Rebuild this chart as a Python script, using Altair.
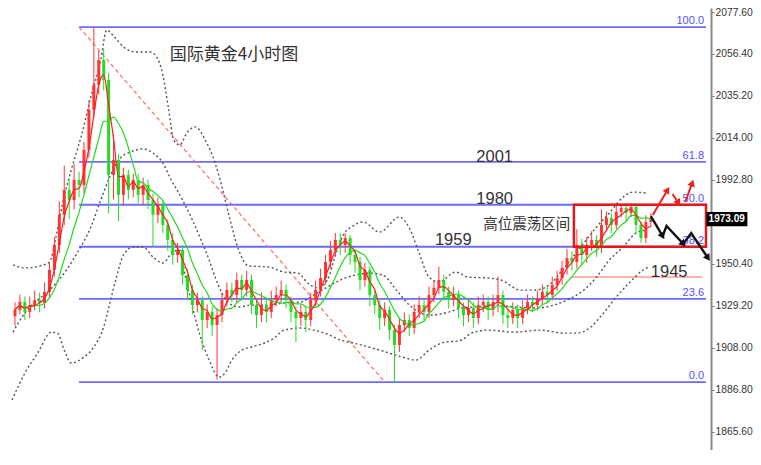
import altair as alt
import pandas as pd

# ---------------- data ----------------
BAR_IDX = list(range(130))
OPEN = [1924.0,1927.2,1931.3,1926.2,1929.7,1932.2,1930.7,1936.3,1947.4,1960.0,
        1975.2,1987.8,1982.7,1992.8,1990.3,2008.0,2028.2,2040.8,2053.4,2043.3,
        1995.4,2002.9,1985.3,1995.4,1987.8,1992.8,1985.3,1990.3,1982.7,1975.2,
        1980.2,1970.1,1962.5,1954.9,1957.5,1944.8,1937.3,1929.7,1932.2,1922.1,
        1926.2,1919.6,1924.6,1932.2,1937.3,1934.7,1942.3,1937.3,1942.3,1929.7,
        1924.6,1929.7,1926.2,1932.2,1934.7,1937.3,1932.2,1926.2,1923.1,1926.2,
        1922.1,1932.2,1937.3,1943.3,1951.4,1957.5,1962.5,1960.0,1963.5,1954.9,
        1951.4,1942.3,1947.4,1934.7,1929.7,1923.1,1927.2,1917.1,1909.5,1919.6,
        1922.1,1918.1,1926.2,1929.7,1926.2,1934.7,1938.3,1942.3,1936.3,1932.2,
        1934.7,1928.2,1924.6,1928.2,1923.1,1929.7,1931.2,1927.2,1931.2,1934.7,
        1924.6,1923.1,1927.2,1923.1,1928.2,1931.2,1929.7,1933.2,1936.3,1934.7,
        1939.8,1943.3,1948.4,1953.4,1951.4,1960.0,1954.9,1960.0,1962.5,1958.5,
        1970.1,1973.6,1970.1,1976.7,1978.7,1976.2,1979.2,1970.1,1963.5,1971.6]
CLOSE = [1927.2,1931.3,1926.2,1929.7,1932.2,1930.7,1936.3,1947.4,1960.0,1975.2,
         1987.8,1982.7,1992.8,1990.3,2008.0,2028.2,2040.8,2053.4,2043.3,1995.4,
         2002.9,1985.3,1995.4,1987.8,1992.8,1985.3,1990.3,1982.7,1975.2,1980.2,
         1970.1,1962.5,1954.9,1957.5,1944.8,1937.3,1929.7,1932.2,1922.1,1926.2,
         1919.6,1924.6,1932.2,1937.3,1934.7,1942.3,1937.3,1942.3,1929.7,1924.6,
         1929.7,1926.2,1932.2,1934.7,1937.3,1932.2,1926.2,1923.1,1926.2,1922.1,
         1932.2,1937.3,1943.3,1951.4,1957.5,1962.5,1960.0,1963.5,1954.9,1951.4,
         1942.3,1947.4,1934.7,1929.7,1923.1,1927.2,1917.1,1909.5,1919.6,1922.1,
         1918.1,1926.2,1929.7,1926.2,1934.7,1938.3,1942.3,1936.3,1932.2,1934.7,
         1928.2,1924.6,1928.2,1923.1,1929.7,1931.2,1927.2,1931.2,1934.7,1924.6,
         1923.1,1927.2,1923.1,1928.2,1931.2,1929.7,1933.2,1936.3,1934.7,1939.8,
         1943.3,1948.4,1953.4,1951.4,1960.0,1954.9,1960.0,1962.5,1958.5,1970.1,
         1973.6,1970.1,1976.7,1978.7,1976.2,1979.2,1970.1,1963.5,1971.6,1973.09]
HIGH = [1931,1935,1934,1934,1937,1936,1941,1951,1964,1982,
        2000,1993,2001,1997,2012,2033,2070,2058,2059,2047,
        2016,2006,1999,1998,1996,1996,1994,1993,1986,1984,
        1982,1973,1966,1961,1960,1948,1940,1936,1934,1930,
        1929,1928,1936,1941,1941,1946,1945,1947,1945,1932,
        1936,1933,1937,1939,1942,1940,1934,1929,1930,1929,
        1936,1942,1948,1955,1962,1966,1966,1966,1965,1958,
        1954,1951,1949,1938,1932,1931,1929,1920,1923,1926,
        1925,1930,1934,1933,1939,1942,1949,1945,1939,1939,
        1937,1931,1933,1931,1934,1935,1934,1935,1944,1937,
        1928,1931,1930,1932,1935,1934,1937,1940,1939,1944,
        1947,1952,1958,1957,1968,1963,1964,1967,1965,1978,
        1977,1976,1981,1981,1981,1981,1981,1972,1975,1976]
LOW = [1919,1925,1922,1923,1927,1926,1928,1933,1944,1956,
       1970,1973,1978,1984,1986,2004,2024,2036,2038,1976,
       1983,1972,1980,1983,1984,1981,1980,1978,1959,1971,
       1966,1957,1950,1951,1940,1932,1925,1926,1907,1918,
       1914,1892,1921,1929,1931,1931,1933,1934,1925,1918,
       1921,1921,1923,1929,1931,1928,1921,1911,1919,1916,
       1919,1929,1934,1940,1948,1954,1955,1956,1950,1946,
       1937,1939,1929,1925,1917,1919,1912,1890.3,1906,1916,
       1914,1915,1923,1922,1923,1931,1935,1932,1928,1929,
       1923,1919,1921,1918,1920,1926,1922,1924,1926,1920,
       1918,1920,1918,1920,1925,1926,1927,1930,1931,1932,
       1937,1940,1945,1947,1948,1950,1951,1957,1954,1956,
       1967,1966,1968,1974,1972,1974,1966,1961,1961,1969]

# Bollinger bands (bar index, price)
UPPER_IDX = [-0.4,2,5,7,8.4,9.6,11.4,13.4,15.4,17.4,18.6,20,22,24.6,27.4,28.6,30,31.2,32.2,33.4,
             35,36.6,38.6,40.6,42,43.4,45.4,47.4,51.4,54.6,57.4,59.4,61.4,63.4,65,66.6,68.6,70.6,
             74,78,80,82,84,86,89.4,92,96,98.6,102.6,105.4,108.6,111.4,115.4,118,120.6,123.4,125.4,128]
UPPER_VAL = [1949.9,1948.4,1949.4,1951.4,1965.0,1980.2,1997.8,2014.5,2034.7,2053.4,2068.5,2065.5,2060.0,
             2057.4,2057.4,2055.4,2045.8,2028.1,2013.0,2010.5,2017.0,2019.6,2013.0,2001.4,1989.3,1975.1,
             1957.4,1949.4,1948.9,1946.3,1945.8,1940.8,1938.3,1942.3,1954.9,1965.0,1969.6,1971.6,1966.5,
             1974.1,1968.6,1955.9,1943.8,1941.3,1946.3,1943.8,1943.3,1942.3,1937.2,1937.2,1940.3,1948.4,
             1961.0,1969.1,1976.1,1984.2,1986.7,1986.2]
MID_IDX = [-0.4,2,4.6,6.6,10,12.6,15.4,17.4,19.4,21.4,23.4,26,28,30,31.4,34,36,38,39.4,40.6,42,43.4,
           45.4,48,51.4,54.6,58,60.6,63.4,66,69,72,74.6,77.4,80,84,88,90.6,93.4,97.4,101.4,105.4,
           109.4,112,115.4,118,120.6,123.4,126,128]
MID_VAL = [1916.0,1925.6,1932.2,1936.2,1945.8,1955.9,1969.1,1982.7,1995.3,2003.9,2006.9,2008.5,2006.4,
           2001.4,1994.3,1982.7,1972.6,1961.0,1952.4,1943.8,1935.7,1930.7,1928.7,1929.7,1929.7,1930.7,
           1931.2,1934.7,1938.8,1942.3,1944.8,1945.8,1944.8,1937.2,1929.7,1924.6,1926.1,1928.2,1928.7,
           1929.7,1928.7,1928.2,1929.7,1932.2,1937.2,1943.8,1952.4,1959.0,1966.0,1967.5]
LOWER_IDX = [-0.6,2,4.6,7.4,8.6,10,11.4,14,16,18,19.4,20.6,22,24,26,28,30,32,33.4,34.6,36,37.4,39.4,
             41.4,42.6,44,46,48,50.6,52.6,54.6,58,60.6,63.4,66,68.6,74,78.6,81.4,84,86.6,90.6,92.6,96,
             101.4,106.6,111.4,114,116.6,119.4,122,124.6,127.4,128.6]
LOWER_VAL = [1881.7,1895.3,1905.4,1916.0,1915.5,1906.9,1900.4,1903.4,1908.5,1918.6,1932.2,1943.8,1954.9,
             1959.0,1959.0,1953.9,1950.9,1956.4,1957.4,1943.8,1928.7,1915.5,1901.9,1893.3,1895.3,1901.9,
             1906.9,1908.5,1910.5,1913.0,1917.0,1918.1,1917.0,1915.0,1912.0,1910.5,1906.9,1903.4,1901.9,
             1906.9,1910.5,1912.0,1915.5,1917.0,1916.0,1917.0,1915.5,1915.5,1918.1,1925.6,1933.7,1940.8,
             1947.3,1948.9]

# Fibonacci retracement
FIB_PRICE = [2070.0, 2001.9, 1980.3, 1959.1, 1932.8, 1890.8]
FIB_LABEL = ["100.0", "61.8", "50.0", "38.2", "23.6", "0.0"]
FIB_START = 13.0
RIGHT_EDGE = 140.2

# trend line (dashed red diagonal)
TREND_IDX = [13.0, 75.0]
TREND_VAL = [2070.0, 1890.8]

# range box and support
BOX = {"x0": 113.4, "x1": 140.2, "top": 1980.3, "bottom": 1959.1}
SUPPORT = {"x0": 113.0, "x1": 139.4, "p": 1943.8}

LAST_PRICE = 1973.09
Y_TICKS = [2077.6, 2056.4, 2035.2, 2014.0, 1992.8, 1950.4, 1929.2, 1908.0, 1886.8, 1865.6]

# annotation texts
TITLE = {"text": "国际黄金4小时图", "idx": 31.4, "p": 2055.9}
LEVEL_TEXT = ["2001", "1980", "1959", "1945"]
LEVEL_IDX = [93.6, 93.6, 85.2, 129.0]
LEVEL_VAL = [2004.4, 1983.2, 1962.5, 1946.3]
RANGE_TEXT = {"text": "高位震荡区间", "idx": 95.0, "p": 1970.1}

# scenario arrows
RED_SEG = [1, 1, 2, 2, 3, 3]
RED_IDX = [129.4, 132.4, 133.4, 134.6, 136.0, 137.4]
RED_VAL = [1975.1, 1987.8, 1985.7, 1981.2, 1981.7, 1991.3]
BLACK_IDX = [129.0, 131.4, 132.2, 135.6, 137.2, 140.6]
BLACK_VAL = [1974.6, 1964.5, 1969.6, 1960.5, 1966.0, 1953.4]

# ---------------- frames ----------------
cdf = pd.DataFrame({"idx": BAR_IDX, "o": OPEN, "h": HIGH, "l": LOW, "c": CLOSE})
bands = pd.concat([
    pd.DataFrame({"band": "upper", "idx": UPPER_IDX, "p": UPPER_VAL}),
    pd.DataFrame({"band": "mid", "idx": MID_IDX, "p": MID_VAL}),
    pd.DataFrame({"band": "lower", "idx": LOWER_IDX, "p": LOWER_VAL}),
])
fib = pd.DataFrame({"p": FIB_PRICE, "label": FIB_LABEL,
                    "x0": FIB_START, "x1": RIGHT_EDGE, "xl": RIGHT_EDGE - 0.4})
trend = pd.DataFrame({"idx": TREND_IDX, "p": TREND_VAL})
box = pd.DataFrame([BOX])
sup = pd.DataFrame([SUPPORT])
levels = pd.DataFrame({"t": LEVEL_TEXT, "idx": LEVEL_IDX, "p": LEVEL_VAL})
title_df = pd.DataFrame([TITLE])
range_df = pd.DataFrame([RANGE_TEXT])
red_arr = pd.DataFrame({"seg": RED_SEG, "idx": RED_IDX, "p": RED_VAL,
                        "ord": list(range(len(RED_IDX)))})
black_arr = pd.DataFrame({"idx": BLACK_IDX, "p": BLACK_VAL, "ord": list(range(len(BLACK_IDX)))})
# arrow heads: end points of the arrow strokes with their pointing angle (style)
red_heads = pd.DataFrame({"idx": [RED_IDX[1], RED_IDX[3], RED_IDX[5]],
                          "p": [RED_VAL[1], RED_VAL[3], RED_VAL[5]],
                          "ang": [31, 149, 20]})
black_heads = pd.DataFrame({"idx": [BLACK_IDX[1], BLACK_IDX[3], BLACK_IDX[5]],
                            "p": [BLACK_VAL[1], BLACK_VAL[3], BLACK_VAL[5]],
                            "ang": [149, 137, 146]})
tag = pd.DataFrame({"x0": [RIGHT_EDGE + 0.1], "x1": [148.6], "xm": [144.4], "p": [LAST_PRICE],
                    "t": [f"{LAST_PRICE:.2f}"]})

# ---------------- scales ----------------
x_scale = alt.Scale(domain=[-0.4, 140.2], nice=False, zero=False)
y_scale = alt.Scale(domain=[1856.49, 2079.62], nice=False, zero=False)
y_axis = alt.Axis(orient="right", values=Y_TICKS, format=".2f", grid=False, title=None,
                  domainColor="#8a8a8a", domainWidth=2, tickColor="#777", tickSize=3,
                  labelColor="#333333", labelFont="Liberation Sans", labelFontSize=10.3,
                  labelPadding=1)


def X(f):
    return alt.X(f, type="quantitative", scale=x_scale, axis=None)


def Y(f):
    return alt.Y(f, type="quantitative", scale=y_scale, axis=y_axis)


BLUE = "#6b6bff"

fib_rules = alt.Chart(fib).mark_rule(color=BLUE, strokeWidth=1.8).encode(
    x=X("x0"), x2=alt.X2("x1"), y=Y("p"))
fib_labels = alt.Chart(fib).mark_text(align="right", baseline="bottom", dy=-1, fontSize=11,
                                      color="#5050ff", font="Liberation Sans").encode(
    x=X("xl"), y=Y("p"), text="label:N")
support = alt.Chart(sup).mark_rule(color="#ff9a9a", strokeWidth=1.6).encode(
    x=X("x0"), x2=alt.X2("x1"), y=Y("p"))
trend_line = alt.Chart(trend).mark_line(color="#ff6a6a", strokeDash=[4, 3], strokeWidth=1.2).encode(
    x=X("idx"), y=Y("p"))
band_lines = alt.Chart(bands).mark_line(color="#555555", strokeDash=[2, 2.5], strokeWidth=1.4,
                                        interpolate="monotone").encode(
    x=X("idx"), y=Y("p"), detail="band:N")

cbase = alt.Chart(cdf).transform_calculate(dir="datum.c >= datum.o ? 'up' : 'down'")
ccolor = alt.Color("dir:N", scale=alt.Scale(domain=["up", "down"], range=["#ff3535", "#22dd22"]),
                   legend=None)
wicks = cbase.mark_rule(strokeWidth=1).encode(x=X("idx"), y=Y("l"), y2=alt.Y2("h"), color=ccolor)
bodies = cbase.mark_bar(size=3).encode(x=X("idx"), y=Y("o"), y2=alt.Y2("c"), color=ccolor)

ma_base = alt.Chart(cdf).transform_window(
    ma_fast="mean(c)", frame=[-2, 0], sort=[alt.SortField("idx")]
).transform_window(
    ma_slow="mean(c)", frame=[-6, 0], sort=[alt.SortField("idx")])
ma_fast = ma_base.mark_line(color="#ff1f1f", strokeWidth=1.2, interpolate="monotone").encode(
    x=X("idx"), y=Y("ma_fast"))
ma_slow = ma_base.mark_line(color="#1fdc1f", strokeWidth=1.2, interpolate="monotone").encode(
    x=X("idx"), y=Y("ma_slow"))

range_box = alt.Chart(box).mark_rect(fillOpacity=0, stroke="#e81818", strokeWidth=2.5).encode(
    x=X("x0"), x2=alt.X2("x1"), y=Y("top"), y2=alt.Y2("bottom"))

title_txt = alt.Chart(title_df).mark_text(align="left", baseline="middle", fontSize=17,
                                          color="#333333", font="Noto Sans CJK SC").encode(
    x=X("idx"), y=Y("p"), text="text:N")
level_txt = alt.Chart(levels).mark_text(align="left", baseline="middle", fontSize=16.5,
                                        color="#333333", font="Liberation Sans").encode(
    x=X("idx"), y=Y("p"), text="t:N")
range_txt = alt.Chart(range_df).mark_text(align="left", baseline="middle", fontSize=14.5,
                                          color="#333333", font="Noto Sans CJK SC").encode(
    x=X("idx"), y=Y("p"), text="text:N")

red_lines = alt.Chart(red_arr).mark_line(color="#f02020", strokeWidth=2).encode(
    x=X("idx"), y=Y("p"), detail="seg:N", order="ord:Q")
red_tips = alt.Chart(red_heads).mark_point(shape="triangle-up", filled=True, size=60,
                                           color="#f02020", opacity=1).encode(
    x=X("idx"), y=Y("p"), angle=alt.Angle("ang:Q", scale=None))
black_lines = alt.Chart(black_arr).mark_line(color="#111111", strokeWidth=2.4).encode(
    x=X("idx"), y=Y("p"), order="ord:Q")
black_tips = alt.Chart(black_heads).mark_point(shape="triangle-up", filled=True, size=60,
                                               color="#111111", opacity=1).encode(
    x=X("idx"), y=Y("p"), angle=alt.Angle("ang:Q", scale=None))

tag_base = alt.Chart(tag).transform_calculate(top="datum.p + 3.6", bot="datum.p - 3.6")
tag_rect = tag_base.mark_rect(color="#000000").encode(
    x=X("x0"), x2=alt.X2("x1"), y=Y("top:Q"), y2=alt.Y2("bot:Q"))
tag_txt = tag_base.mark_text(color="white", fontSize=10, fontWeight="bold",
                             font="Liberation Sans", baseline="middle").encode(
    x=X("xm"), y=Y("p"), text="t:N")

chart = alt.layer(
    fib_rules, fib_labels, support, trend_line, band_lines, wicks, bodies, ma_slow, ma_fast,
    range_box, title_txt, level_txt, range_txt, red_lines, red_tips, black_lines, black_tips,
    tag_rect, tag_txt
).properties(
    width=703, height=442,
    padding={"left": 0, "top": 0, "right": 42, "bottom": 0},
    autosize=alt.AutoSizeParams(type="none"),
    background="white",
).configure_view(strokeWidth=0)

chart.save("out.html", embed_options={"renderer": "svg", "actions": False})
